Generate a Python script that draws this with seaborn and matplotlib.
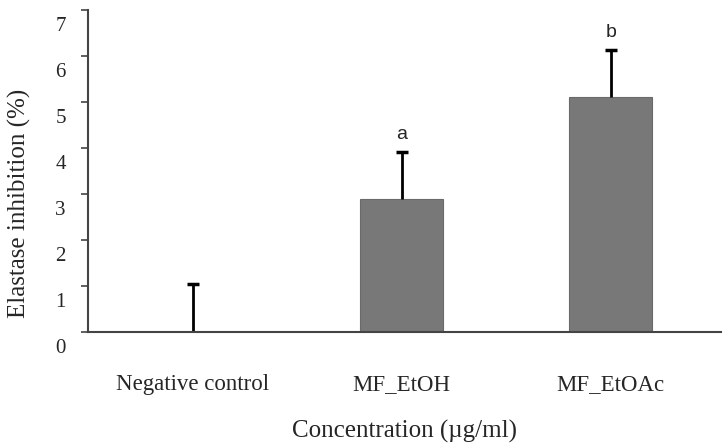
import numpy as np
import pandas as pd
import matplotlib
matplotlib.use('Agg')
import matplotlib.pyplot as plt
import matplotlib.transforms as mtransforms
import seaborn as sns

groups = ['Negative control', 'MF_EtOH', 'MF_EtOAc']
inhibition = [0.0, 2.89, 5.11]
sd = [1.04, 1.02, 1.02]
letters = ['', 'a', 'b']

df = pd.DataFrame({'group': groups, 'inhibition': inhibition})

sns.set_style('white')
plt.rcParams['font.family'] = ['Liberation Serif', 'DejaVu Serif']

fig = plt.figure(figsize=(7.24, 4.48), dpi=100)
ax = fig.add_axes([0.1215, 0.259, 0.875, 0.719])

sns.barplot(data=df, x='group', y='inhibition', color='#787878', width=0.4,
            edgecolor='#6a6a6a', linewidth=0.8, errorbar=None, ax=ax)

xpos = np.arange(len(groups))
eb = ax.errorbar(xpos, inhibition, yerr=[np.zeros(len(sd)), sd], fmt='none',
                 ecolor='black', elinewidth=2, capsize=4, capthick=2.5)
# only the upper cap is wanted
eb[1][0].set_visible(False)

for x, v, e, lab in zip(xpos, inhibition, sd, letters):
    if lab:
        ax.text(x, v + e + 0.2, lab, ha='center', va='bottom', fontsize=14,
                family=['Liberation Sans', 'DejaVu Sans'])

ax.set_ylim(0, 7)
ax.set_xlim(-0.5, 2.53)
ax.set_yticks(range(0, 8))
ax.tick_params(axis='y', direction='out', length=5, width=1.2, color='#444444',
               left=True, labelsize=15, pad=11)
ax.tick_params(axis='x', length=0, labelsize=16.5, pad=30)

# labels sit a little below their ticks, as in the original
offset = mtransforms.ScaledTranslation(0, -14 / 100, fig.dpi_scale_trans)
for lbl in ax.get_yticklabels():
    lbl.set_transform(lbl.get_transform() + offset)

for s in ['top', 'right']:
    ax.spines[s].set_visible(False)
for s in ['left', 'bottom']:
    ax.spines[s].set_color('#444444')
    ax.spines[s].set_linewidth(1.5)

ax.set_ylabel('Elastase inhibition (%)', fontsize=18)
ax.yaxis.set_label_coords(-0.09, 0.40)
ax.set_xlabel('Concentration (\u00b5g/ml)', fontsize=18, labelpad=18)

fig.savefig('out.png', dpi=100)
